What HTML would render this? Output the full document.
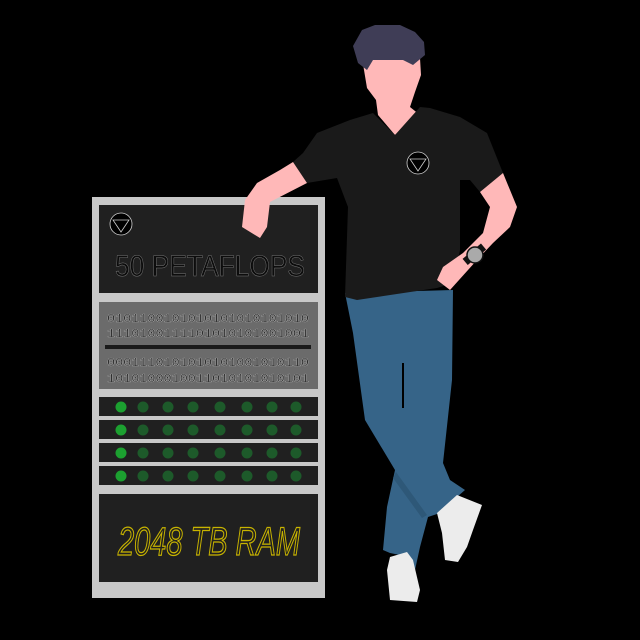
<!DOCTYPE html>
<html><head><meta charset="utf-8"><style>html,body{margin:0;padding:0;background:#000}svg{display:block}</style></head>
<body>
<svg width="640" height="640" viewBox="0 0 640 640" xmlns="http://www.w3.org/2000/svg">
<rect width="640" height="640" fill="#000"/>
<rect x="92" y="197" width="233" height="401" fill="#c8c8c8"/>
<rect x="99" y="205" width="219" height="88" fill="#202020"/>
<rect x="99" y="302" width="219" height="87" fill="#6b6b6b"/>
<g font-family="Liberation Mono, monospace" font-size="12" fill="#111" stroke="#ccc" stroke-width="0.3">
<text x="107" y="322" textLength="202" lengthAdjust="spacingAndGlyphs">0101100101010101010101010</text>
<text x="107" y="337" textLength="202" lengthAdjust="spacingAndGlyphs">1110100111101010101001001</text>
<text x="107" y="366" textLength="202" lengthAdjust="spacingAndGlyphs">0001110101010101001010110</text>
<text x="107" y="382" textLength="202" lengthAdjust="spacingAndGlyphs">1010100010011010101010101</text>
</g>
<rect x="105" y="345" width="206" height="4" fill="#1a1a1a"/>
<g>
<rect x="99" y="397" width="219" height="19" fill="#202020"/>
<rect x="99" y="420" width="219" height="19" fill="#202020"/>
<rect x="99" y="443" width="219" height="19" fill="#202020"/>
<rect x="99" y="466" width="219" height="19" fill="#202020"/>
</g>
<g fill="#1d5a2a">
<circle cx="121" cy="407" r="5.5" fill="#1ca030"/><circle cx="143" cy="407" r="5.5"/><circle cx="168" cy="407" r="5.5"/><circle cx="193" cy="407" r="5.5"/><circle cx="220" cy="407" r="5.5"/><circle cx="247" cy="407" r="5.5"/><circle cx="272" cy="407" r="5.5"/><circle cx="296" cy="407" r="5.5"/>
<circle cx="121" cy="430" r="5.5" fill="#1ca030"/><circle cx="143" cy="430" r="5.5"/><circle cx="168" cy="430" r="5.5"/><circle cx="193" cy="430" r="5.5"/><circle cx="220" cy="430" r="5.5"/><circle cx="247" cy="430" r="5.5"/><circle cx="272" cy="430" r="5.5"/><circle cx="296" cy="430" r="5.5"/>
<circle cx="121" cy="453" r="5.5" fill="#1ca030"/><circle cx="143" cy="453" r="5.5"/><circle cx="168" cy="453" r="5.5"/><circle cx="193" cy="453" r="5.5"/><circle cx="220" cy="453" r="5.5"/><circle cx="247" cy="453" r="5.5"/><circle cx="272" cy="453" r="5.5"/><circle cx="296" cy="453" r="5.5"/>
<circle cx="121" cy="476" r="5.5" fill="#1ca030"/><circle cx="143" cy="476" r="5.5"/><circle cx="168" cy="476" r="5.5"/><circle cx="193" cy="476" r="5.5"/><circle cx="220" cy="476" r="5.5"/><circle cx="247" cy="476" r="5.5"/><circle cx="272" cy="476" r="5.5"/><circle cx="296" cy="476" r="5.5"/>
</g>
<rect x="99" y="494" width="219" height="88" fill="#202020"/>
<text x="118" y="555" font-family="Liberation Sans, sans-serif" font-size="40" font-style="italic" fill="none" stroke="#c8b400" stroke-width="1.3" textLength="182" lengthAdjust="spacingAndGlyphs">2048 TB RAM</text>
<text x="115" y="276" font-family="Liberation Sans, sans-serif" font-size="30" fill="#0c0c0c" stroke="#777" stroke-width="0.5" textLength="190" lengthAdjust="spacingAndGlyphs">50 PETAFLOPS</text>
<circle cx="121" cy="224" r="11" fill="#000" stroke="#ccc" stroke-width="0.8"/>
<path d="M113 220 L129 220 L121 232 Z" fill="none" stroke="#ccc" stroke-width="0.8"/>
<path d="M345,293 L453,290 L452,380 L443,463 L450,480 L465,490 L457,497 L440,513 L428,517 L420,547 L415,570 L410,557 L390,553 L383,550 L387,507 L395,470 L365,420 L353,333 Z" fill="#366488"/>
<path d="M402,363 L404,363 L404,408 L402,408 Z" fill="#000"/>
<path d="M396,472 L427,515 L422,518 L393,478 Z" fill="#2e5878"/>
<path d="M437,513 L457,495 L482,505 L473,530 L467,547 L458,562 L445,560 L442,533 Z" fill="#ececec"/>
<path d="M390,557 L407,552 L413,560 L420,590 L417,602 L390,600 L387,570 Z" fill="#ececec"/>
<path d="M362,58 L420,58 L421,75 L415,92 L410,107 L420,115 L395,135 L378,115 L376,100 L367,88 Z" fill="#ffb8b8"/>
<path d="M353,46 L362,30 L375,25 L400,25 L415,32 L424,42 L425,55 L413,65 L403,60 L373,60 L367,70 L358,63 Z" fill="#3f3d56"/>
<path d="M373,113 L350,120 L317,133 L303,153 L293,162 L307,183 L337,178 L348,207 L345,297 L357,300 L437,288 L453,283 L460,250 L460,180 L470,180 L480,192 L503,173 L487,133 L460,117 L430,108 L420,107 L395,135 Z" fill="#1a1a1a"/>
<circle cx="418" cy="163" r="11" fill="#000" stroke="#ccc" stroke-width="0.8"/>
<path d="M410 159 L426 159 L418 171 Z" fill="none" stroke="#ccc" stroke-width="0.8"/>
<path d="M503,173 L517,207 L510,227 L493,243 L477,260 L450,290 L437,280 L443,267 L463,253 L483,233 L490,207 L480,192 Z" fill="#ffb8b8"/>
<path d="M293,162 L280,170 L257,183 L245,200 L242,227 L260,238 L267,227 L270,202 L307,183 Z" fill="#ffb8b8"/>
<rect x="463" y="250" width="24" height="8" transform="rotate(-40 475 255)" fill="#111"/>
<circle cx="475" cy="255" r="8" fill="#aaa" stroke="#111" stroke-width="1.5"/>
</svg>
</body></html>
